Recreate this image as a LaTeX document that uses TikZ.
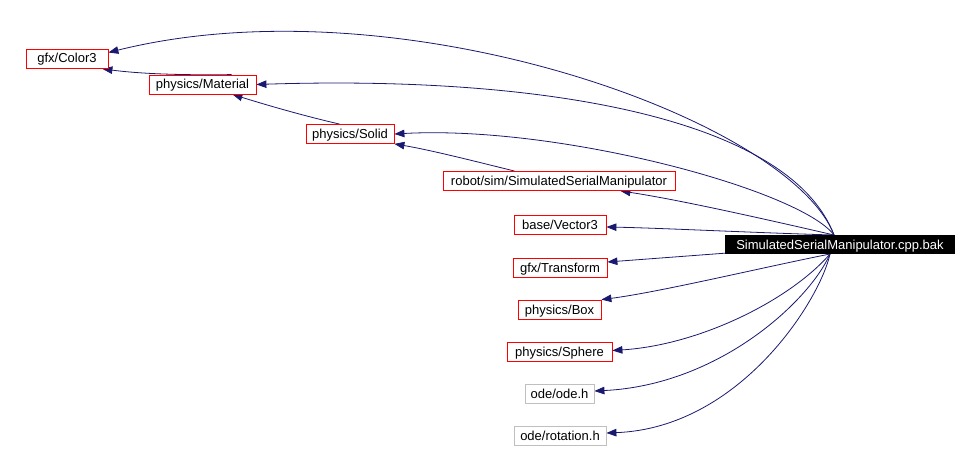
\documentclass[tikz,border=0pt]{standalone}
\usepackage{fontspec}
\setmainfont{Liberation Sans}
\usetikzlibrary{arrows.meta,backgrounds,calc}
\definecolor{edgec}{HTML}{191970}
\definecolor{boxgray}{HTML}{BFBFBF}
\begin{document}
\begin{tikzpicture}[x=1pt,y=-1pt, font=\fontsize{13}{15}\selectfont,
  nbox/.style={draw=red, fill=white, line width=0.8pt, minimum height=19pt, inner xsep=4pt, inner ysep=0pt, text height=12pt, text depth=3pt, text=black},
  gbox/.style={nbox, draw=boxgray},
  edge/.style={draw=edgec, line width=0.8pt, -{Triangle[length=10pt,width=7.5pt]}}]
\useasboundingbox (0,0) rectangle (974,449);
\node[nbox, minimum width=82pt] (color3) at (67,58.5) {gfx/Color3};
\node[nbox, minimum width=107pt] (material) at (202.5,84.5) {physics/Material};
\node[nbox, minimum width=88pt] (solid) at (350,134) {physics/Solid};
\node[nbox, minimum width=232pt] (robot) at (559,181) {robot/sim/SimulatedSerialManipulator};
\node[nbox, minimum width=92pt] (vector3) at (560,225) {base/Vector3};
\node[nbox, minimum width=94pt] (transform) at (560,268) {gfx/Transform};
\node[nbox, minimum width=83pt] (box) at (559.5,309.5) {physics/Box};
\node[nbox, minimum width=105pt] (sphere) at (559.5,351.5) {physics/Sphere};
\node[gbox, minimum width=69pt] (ode) at (559.5,394) {ode/ode.h};
\node[gbox, minimum width=92pt] (rot) at (560,436) {ode/rotation.h};
\node[fill=black, text=white, minimum width=230pt, minimum height=19pt, inner sep=0pt, text height=12pt, text depth=3pt] (main) at (840,244.5) {SimulatedSerialManipulator.cpp.bak};
\coordinate (mt) at (834,235);
\coordinate (mb) at (830,254);
\coordinate (tl) at ($(main.south west)+(0,-1)$);
\begin{scope}[on background layer]
\draw[edge] (mt) .. controls (790,120) and (400,-20) .. ($(color3.east)+(0,-6)$);
\draw[edge] (mt) .. controls (790,120) and (550,75) .. (material.east);
\draw[edge] (mt) .. controls (800,190) and (560,125) .. (solid.east);
\draw[edge] (mt) .. controls (760,218) and (680,200) .. ($(robot.south east)+(-55,0)$);
\draw[edge] (mt) .. controls (760,233) and (660,228) .. ($(vector3.east)+(0,2)$);
\draw[edge] (tl) -- ($(transform.east)+(0,-6)$);
\draw[edge] (mb) .. controls (760,268) and (660,292) .. (box.north east);
\draw[edge] (mb) .. controls (790,300) and (700,345) .. ($(sphere.east)+(0,-1)$);
\draw[edge] (mb) .. controls (810,300) and (720,385) .. ($(ode.east)+(0,-3)$);
\draw[edge] (mb) .. controls (820,300) and (740,428) .. ($(rot.east)+(0,-3)$);
\draw[edge] ($(material.north west)+(83,0)$) .. controls (200,75) and (150,75) .. ($(color3.south east)+(-6,0.5)$);
\draw[edge] ($(solid.north west)+(34,0)$) .. controls (300,115) and (260,103) .. ($(material.south east)+(-24,0)$);
\draw[edge] ($(robot.north west)+(72,0)$) .. controls (470,160) and (430,150) .. (solid.south east);
\end{scope}
\end{tikzpicture}
\end{document}
